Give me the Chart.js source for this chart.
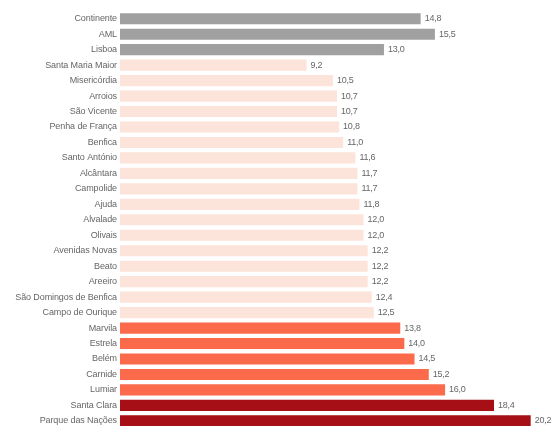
<!DOCTYPE html>
<html>
<head>
<meta charset="utf-8">
<script src="https://cdn.jsdelivr.net/npm/chart.js@4"></script>
<style>
    html, body { margin: 0; padding: 0; background: #fff; overflow: hidden; }
    #wrap { position: relative; width: 552px; height: 437px; }
</style>
</head>
<body>
<div id="wrap"><canvas id="chart"></canvas></div>
<script>
// Parishes / regions, top to bottom
const categories = [
    'Continente', 'AML', 'Lisboa', 'Santa Maria Maior', 'Misericórdia', 'Arroios',
    'São Vicente', 'Penha de França', 'Benfica', 'Santo António', 'Alcântara',
    'Campolide', 'Ajuda', 'Alvalade', 'Olivais', 'Avenidas Novas', 'Beato', 'Areeiro',
    'São Domingos de Benfica', 'Campo de Ourique', 'Marvila', 'Estrela', 'Belém',
    'Carnide', 'Lumiar', 'Santa Clara', 'Parque das Nações'
];
const values = [
    14.8, 15.5, 13.0, 9.2, 10.5, 10.7,
    10.7, 10.8, 11.0, 11.6, 11.7,
    11.7, 11.8, 12.0, 12.0, 12.2, 12.2, 12.2,
    12.4, 12.5, 13.8, 14.0, 14.5,
    15.2, 16.0, 18.4, 20.2
];
// Colour class of each bar
const tiers = [
    'ref', 'ref', 'ref', 'low', 'low', 'low',
    'low', 'low', 'low', 'low', 'low',
    'low', 'low', 'low', 'low', 'low', 'low', 'low',
    'low', 'low', 'mid', 'mid', 'mid',
    'mid', 'mid', 'high', 'high'
];

const tierColors = { ref: '#a0a0a0', low: '#fde4da', mid: '#fb6a4a', high: '#a50f15' };
const FONT = '"Liberation Sans", Arial, sans-serif';

// slightly tighter text, the original uses a narrow sans
const tightText = {
    id: 'tightText',
    beforeDraw(chart) { chart.ctx.letterSpacing = '-0.1px'; }
};

// draws the value next to the end of each bar
const valueLabels = {
    id: 'valueLabels',
    afterDatasetsDraw(chart) {
        const ctx = chart.ctx;
        const meta = chart.getDatasetMeta(0);
        ctx.save();
        ctx.font = '9px ' + FONT;
        ctx.letterSpacing = '-0.25px';
        ctx.fillStyle = '#666';
        ctx.textAlign = 'left';
        ctx.textBaseline = 'middle';
        meta.data.forEach((bar, i) => {
            ctx.fillText(values[i].toFixed(1).replace('.', ','), bar.x + 3, bar.y);
        });
        ctx.restore();
    }
};

new Chart(document.getElementById('chart'), {
    type: 'bar',
    data: {
        labels: categories,
        datasets: [{
            data: values,
            backgroundColor: tiers.map(t => tierColors[t]),
            borderColor: 'rgba(255, 255, 255, 0.45)',
            borderWidth: 1,
            barPercentage: 0.85,
            categoryPercentage: 1
        }]
    },
    options: {
        indexAxis: 'y',
        responsive: true,
        maintainAspectRatio: false,
        animation: false,
        layout: { padding: { top: 11, right: 4, bottom: 0, left: 0 } },
        plugins: { legend: { display: false }, tooltip: { enabled: false } },
        scales: {
            x: {
                display: false,
                min: 0,
                max: 21
            },
            y: {
                grid: { display: false, drawTicks: false },
                border: { display: false },
                ticks: {
                    color: '#666',
                    padding: 3,
                    autoSkip: false,
                    font: { family: FONT, size: 9 }
                },
                afterFit(scale) { scale.width = 120; }
            }
        }
    },
    plugins: [tightText, valueLabels]
});
</script>
</body>
</html>
